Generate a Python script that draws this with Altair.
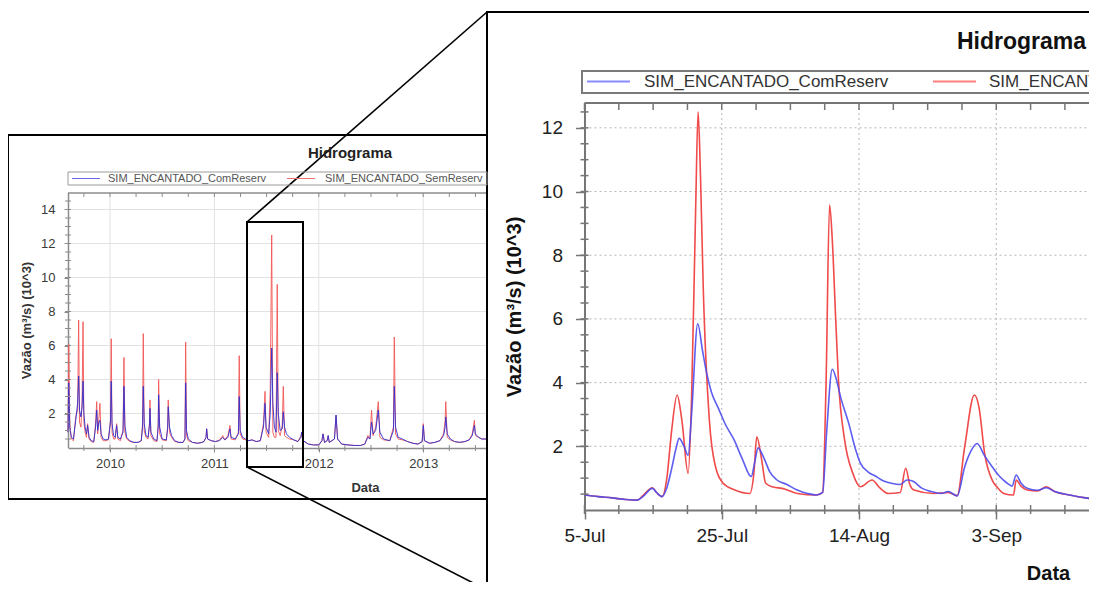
import altair as alt
import pandas as pd

FONT = "Liberation Sans"
W, H = 1081, 574

# ---------------- overview hydrograph (decimal year), flows in 10^3 m3/s
ov_ano = [2009.598, 2009.605, 2009.615, 2009.630, 2009.650, 2009.672, 2009.690, 2009.700, 2009.708, 2009.722,
          2009.733, 2009.742, 2009.750, 2009.762, 2009.775, 2009.786, 2009.800, 2009.820, 2009.845, 2009.862,
          2009.873, 2009.882, 2009.895, 2009.904, 2009.915, 2009.935, 2009.960, 2009.985, 2010.005, 2010.012,
          2010.020, 2010.035, 2010.050, 2010.064, 2010.075, 2010.100, 2010.125, 2010.134, 2010.143, 2010.160,
          2010.190, 2010.230, 2010.270, 2010.300, 2010.312, 2010.319, 2010.328, 2010.345, 2010.365, 2010.378,
          2010.383, 2010.392, 2010.420, 2010.450, 2010.462, 2010.466, 2010.476, 2010.500, 2010.540, 2010.552,
          2010.558, 2010.570, 2010.590, 2010.620, 2010.660, 2010.700, 2010.718, 2010.725, 2010.733, 2010.750,
          2010.790, 2010.840, 2010.880, 2010.900, 2010.920, 2010.926, 2010.935, 2010.970, 2011.010, 2011.050,
          2011.080, 2011.100, 2011.130, 2011.149, 2011.160, 2011.200, 2011.230, 2011.238, 2011.247, 2011.270,
          2011.300, 2011.330, 2011.360, 2011.400, 2011.440, 2011.470, 2011.485, 2011.495, 2011.520, 2011.535,
          2011.549, 2011.560, 2011.575, 2011.590, 2011.602, 2011.612, 2011.630, 2011.650, 2011.660, 2011.672,
          2011.690, 2011.720, 2011.760, 2011.800, 2011.830, 2011.836, 2011.850, 2011.900, 2011.950, 2012.000,
          2012.030, 2012.040, 2012.055, 2012.080, 2012.090, 2012.100, 2012.150, 2012.165, 2012.180, 2012.220,
          2012.280, 2012.340, 2012.400, 2012.440, 2012.470, 2012.490, 2012.505, 2012.520, 2012.545, 2012.570,
          2012.585, 2012.620, 2012.680, 2012.715, 2012.723, 2012.735, 2012.760, 2012.800, 2012.850, 2012.900,
          2012.950, 2012.990, 2013.001, 2013.012, 2013.060, 2013.110, 2013.160, 2013.195, 2013.210, 2013.216,
          2013.230, 2013.260, 2013.300, 2013.350, 2013.400, 2013.440, 2013.470, 2013.490, 2013.500, 2013.530,
          2013.560, 2013.611]
ov_com = [0.9, 3.8, 1.2, 0.6, 0.5, 1.6, 2.6, 4.2, 2.2, 1.8,
          2.4, 3.9, 2.0, 1.2, 0.8, 1.3, 0.6, 0.4, 0.35, 1.2,
          2.2, 1.0, 1.5, 1.6, 0.8, 0.5, 0.45, 0.5, 1.5, 3.9,
          1.4, 0.7, 0.6, 1.3, 0.6, 0.5, 0.9, 3.6, 1.3, 0.6,
          0.4, 0.3, 0.3, 0.4, 1.2, 3.6, 1.4, 0.7, 0.6, 1.3,
          2.3, 0.9, 0.5, 0.4, 1.2, 3.1, 1.2, 0.5, 0.45, 1.1,
          2.4, 1.2, 0.7, 0.4, 0.3, 0.3, 0.5, 3.8, 1.0, 0.5,
          0.3, 0.25, 0.3, 0.35, 0.6, 1.1, 0.5, 0.4, 0.35, 0.4,
          0.6, 0.45, 0.6, 1.1, 0.6, 0.5, 0.8, 3.0, 1.0, 0.6,
          0.5, 0.4, 0.45, 0.35, 0.4, 1.2, 2.6, 1.2, 0.8, 2.0,
          5.85, 2.6, 1.2, 0.9, 4.4, 2.0, 1.0, 1.1, 2.1, 1.2,
          0.8, 0.6, 0.45, 0.35, 0.6, 0.9, 0.4, 0.2, 0.15, 0.15,
          0.4, 0.8, 0.3, 0.4, 0.7, 0.3, 0.5, 1.9, 0.5, 0.2,
          0.15, 0.12, 0.12, 0.2, 0.6, 0.5, 1.5, 0.8, 1.0, 2.2,
          0.9, 0.5, 0.4, 1.0, 3.6, 1.2, 0.6, 0.5, 0.35, 0.25,
          0.2, 0.35, 1.3, 0.4, 0.25, 0.3, 0.4, 0.7, 1.2, 1.8,
          0.8, 0.5, 0.35, 0.3, 0.35, 0.45, 0.7, 1.3, 0.8, 0.6,
          0.5, 0.5]
ov_sem = [0.9, 6.1, 1.4, 0.5, 0.4, 1.8, 2.2, 7.5, 1.5, 1.2,
          2.8, 7.4, 1.5, 0.9, 0.6, 1.4, 0.5, 0.35, 0.3, 1.4,
          2.7, 0.8, 1.8, 2.6, 0.6, 0.4, 0.4, 0.45, 1.6, 6.4,
          0.9, 0.5, 0.5, 1.4, 0.5, 0.4, 1.0, 5.3, 0.9, 0.5,
          0.35, 0.3, 0.3, 0.4, 1.4, 6.7, 1.0, 0.6, 0.5, 1.4,
          2.8, 0.7, 0.4, 0.35, 1.4, 4.0, 0.8, 0.45, 0.4, 1.2,
          2.8, 0.9, 0.6, 0.35, 0.3, 0.3, 0.5, 6.2, 0.7, 0.4,
          0.3, 0.25, 0.3, 0.35, 0.6, 1.1, 0.5, 0.4, 0.35, 0.45,
          0.7, 0.45, 0.7, 1.3, 0.5, 0.45, 0.9, 5.4, 0.8, 0.5,
          0.45, 0.4, 0.45, 0.35, 0.4, 1.4, 3.3, 0.9, 0.6, 3.4,
          12.5, 0.9, 0.6, 0.6, 9.6, 1.0, 0.7, 1.3, 3.6, 0.7,
          0.6, 0.5, 0.45, 0.35, 0.7, 0.9, 0.4, 0.2, 0.15, 0.15,
          0.4, 0.8, 0.3, 0.4, 0.7, 0.3, 0.5, 1.9, 0.5, 0.2,
          0.15, 0.12, 0.12, 0.2, 0.7, 0.5, 2.2, 0.7, 1.2, 2.7,
          0.6, 0.45, 0.4, 1.2, 6.5, 0.8, 0.5, 0.45, 0.35, 0.25,
          0.2, 0.35, 1.4, 0.4, 0.25, 0.3, 0.4, 0.8, 1.6, 2.7,
          0.6, 0.45, 0.35, 0.3, 0.35, 0.45, 0.8, 1.6, 0.7, 0.6,
          0.5, 0.5]

# ---------------- zoomed hydrograph: days after 5-Jul-2011, flows in 10^3 m3/s
zc_dia = [0, 2, 4, 6, 7.7, 8.5, 9.9, 10.5, 11.3, 12, 12.7, 13.3, 13.8, 14.5, 15.1, 15.6, 16.5, 17.2,
          17.8, 18.5, 19.5, 20.5, 21.8, 23, 24.3, 24.8, 25.3, 26, 27, 28, 29.5, 31, 32.5, 33.8, 34.7,
          35.3, 36.1, 36.7, 37.3, 38.5, 39.5, 40.2, 41.3, 42.5, 43.5, 44.7, 46, 47, 47.7, 49.2, 50.5,
          52, 53, 54.3, 55.4, 56.3, 57.2, 58.3, 59.4, 60.5, 61.6, 62.3, 62.9, 63.6, 64.5, 66, 67.3,
          68.5, 70.7, 73, 75, 78]
zc_val = [0.47, 0.42, 0.38, 0.33, 0.31, 0.42, 0.68, 0.55, 0.42, 0.7, 1.3, 1.9, 2.25, 2.0, 1.72, 3.0,
          5.85, 5.0, 4.3, 3.7, 3.2, 2.7, 2.2, 1.6, 1.05, 1.5, 1.95, 1.7, 1.2, 0.95, 0.8, 0.63, 0.52,
          0.47, 0.55, 2.5, 4.42, 4.1, 3.56, 2.72, 1.9, 1.47, 1.2, 1.05, 0.92, 0.84, 0.8, 0.94, 0.92,
          0.68, 0.58, 0.52, 0.58, 0.44, 1.36, 1.85, 2.09, 1.7, 1.36, 1.05, 0.84, 0.75, 1.1, 0.85,
          0.68, 0.62, 0.7, 0.58, 0.47, 0.38, 0.33, 0.28]
zs_dia = [0, 2, 4, 6, 7.7, 8.5, 9.9, 10.5, 11.3, 12, 12.7, 13.5, 14.2, 15.1, 15.6, 16.2, 16.55, 16.9,
          17.3, 18.2, 19.1, 20.2, 21.9, 24.1, 24.7, 25.1, 25.8, 26.4, 27.5, 28.8, 31, 33.8, 34.7,
          35.2, 35.71, 36.1, 36.6, 37.0, 37.9, 39.1, 40.2, 41.9, 43, 44.2, 46, 46.8, 47.4, 48, 50.9,
          53, 54.3, 55.4, 56.8, 57.5, 58.3, 59.4, 60.2, 61.1, 62.5, 62.9, 63.6, 64.5, 66, 67.3, 68.5,
          70.7, 73, 75, 78]
zs_val = [0.47, 0.42, 0.38, 0.33, 0.31, 0.45, 0.7, 0.55, 0.42, 1.0, 2.5, 3.61, 2.8, 1.15, 3.5, 9.5,
          12.5, 10.5, 7.0, 2.8, 1.35, 0.84, 0.63, 0.52, 1.2, 2.3, 1.6, 0.84, 0.72, 0.68, 0.52, 0.47,
          0.55, 4.0, 9.58, 8.5, 6.0, 4.1, 2.2, 1.15, 0.73, 0.94, 0.7, 0.52, 0.55, 1.31, 0.8, 0.63,
          0.52, 0.55, 0.45, 1.99, 3.61, 3.2, 1.78, 0.94, 0.7, 0.52, 0.47, 0.94, 0.75, 0.63, 0.6,
          0.73, 0.58, 0.47, 0.38, 0.33, 0.28]

# ---------------- axis ticks and texts
ov_anos = [2010, 2011, 2012, 2013]
ov_trimestres = [2009.75 + 0.25 * i for i in range(16)]
ov_yticks = [2, 4, 6, 8, 10, 12, 14]
ov_yminor = [0.5 * i for i in range(1, 30)]
zm_yticks = [2, 4, 6, 8, 10, 12]
zm_yminor = [0.5 * i for i in range(1, 26)]
zm_major_dias = [0, 20, 40, 60]
zm_minor_dias = [5 * i for i in range(17)]
serie_com = "SIM_ENCANTADO_ComReserv"
serie_sem = "SIM_ENCANTADO_SemReserv"
titulo = "Hidrograma"
ytitulo = "Vazão (m³/s) (10^3)"
xtitulo = "Data"

BASE = pd.Timestamp("2011-07-05")


def iso(days):
    return [(BASE + pd.Timedelta(hours=24 * d)).strftime("%Y-%m-%dT%H:%M:%S") for d in days]


def dt(d):
    t = BASE + pd.Timedelta(days=d)
    return alt.DateTime(year=t.year, month=t.month, date=t.day)


DUMMY = alt.Data(values=[{"k": 0}])


def seg(x1, y1, x2, y2, color="black", w=2.0):
    return alt.Chart(DUMMY).mark_rule(color=color, strokeWidth=w).encode(
        x=alt.value(x1), y=alt.value(y1), x2=alt.value(x2), y2=alt.value(y2))


def box(x1, y1, x2, y2, color="black", w=2.0):
    return alt.Chart(DUMMY).mark_rect(fillOpacity=0, stroke=color, strokeWidth=w).encode(
        x=alt.value(x1), y=alt.value(y1), x2=alt.value(x2), y2=alt.value(y2))


def label(x, y, s, size, color="#222", weight="normal", align="left", **kw):
    return alt.Chart(DUMMY).mark_text(font=FONT, fontSize=size, fontWeight=weight, color=color,
                                      align=align, baseline="middle", **kw).encode(
        x=alt.value(x), y=alt.value(y), text=alt.value(s))


# ================= overview panel (left)
OV_X0, OV_X1, OV_Y0, OV_Y1 = 60, 479, 439.5, 184.5
ov_xs = alt.Scale(domain=[2009.598, 2013.611], range=[OV_X0, OV_X1], nice=False, zero=False)
ov_ys = alt.Scale(domain=[0, 15], range=[OV_Y0, OV_Y1], nice=False, zero=False)
ov_xax = alt.Axis(orient="bottom", offset=440 - H, values=ov_anos, format="d", grid=False,
                  labelFlush=False, labelOverlap=False, domainColor="#8c8c8c", domainWidth=1.5,
                  tickColor="#8c8c8c", tickSize=4, labelFont=FONT, labelFontSize=13, labelColor="#3a3a3a",
                  labelPadding=5, title=xtitulo, titleFont=FONT, titleFontSize=13, titleFontWeight="bold",
                  titleColor="#333", titleX=357, titleY=39, titleBaseline="middle", titleAlign="center")
ov_yax = alt.Axis(orient="left", offset=-OV_X0, values=ov_yticks, grid=False, labelFlush=False,
                  labelOverlap=False, domainColor="#8c8c8c", domainWidth=1.5, tickColor="#8c8c8c",
                  tickSize=4, labelFont=FONT, labelFontSize=13, labelColor="#3a3a3a", labelPadding=9,
                  title=ytitulo, titleFont=FONT, titleFontSize=13, titleFontWeight="bold",
                  titleColor="#333", titleX=-42, titleY=312, titleAngle=270, titleBaseline="middle",
                  titleAlign="center")


def ovX(f):
    return alt.X(f, scale=ov_xs, axis=ov_xax)


def ovY(f):
    return alt.Y(f, scale=ov_ys, axis=ov_yax)


ovdf = pd.DataFrame({"ano": ov_ano, "com": ov_com, "sem": ov_sem})
ov_layer = alt.layer(
    alt.Chart(pd.DataFrame({"v": ov_yticks})).mark_rule(color="#e2e2e2", strokeWidth=1).encode(
        y=ovY("v:Q"), x=alt.value(OV_X0), x2=alt.value(OV_X1)),
    alt.Chart(pd.DataFrame({"a": ov_anos})).mark_rule(color="#e2e2e2", strokeWidth=1).encode(
        x=ovX("a:Q"), y=alt.value(185), y2=alt.value(440)),
    alt.Chart(ovdf).mark_line(color="#f25656", strokeWidth=1, opacity=0.9).encode(
        x=ovX("ano:Q"), y=ovY("sem:Q")),
    alt.Chart(ovdf).mark_line(color="#3030d0", strokeWidth=1, opacity=0.9).encode(
        x=ovX("ano:Q"), y=ovY("com:Q")),
    alt.Chart(pd.DataFrame({"v": ov_yminor})).mark_rule(color="#8c8c8c", strokeWidth=1).encode(
        y=ovY("v:Q"), x=alt.value(57), x2=alt.value(63)),
    alt.Chart(pd.DataFrame({"a": ov_trimestres})).mark_rule(color="#8c8c8c", strokeWidth=1).encode(
        x=ovX("a:Q"), y=alt.value(185), y2=alt.value(189)),
    alt.Chart(pd.DataFrame({"a": ov_trimestres})).mark_rule(color="#8c8c8c", strokeWidth=1).encode(
        x=ovX("a:Q"), y=alt.value(437), y2=alt.value(443)),
)

# ================= zoom panel (right)
ZM_X0, ZM_Y0, ZM_Y1 = 576.5, 502, 95
PX_DAY = 6.863
zm_xs = alt.Scale(domain=[dt(0), dt(81)], range=[ZM_X0, ZM_X0 + 81 * PX_DAY], nice=False)
zm_ys = alt.Scale(domain=[0, 12.78], range=[ZM_Y0, ZM_Y1], nice=False, zero=False)
zm_xax = alt.Axis(orient="bottom", offset=ZM_Y0 - H, values=[dt(d) for d in zm_major_dias],
                  format="%-d-%b", grid=False, labelFlush=False, labelOverlap=False,
                  domainColor="#767676", domainWidth=2, tickColor="#767676", tickWidth=1.5, tickSize=9,
                  labelFont=FONT, labelFontSize=19, labelColor="#222", labelPadding=7,
                  title=xtitulo, titleFont=FONT, titleFontSize=20, titleFontWeight="bold",
                  titleColor="#111", titleX=1040, titleY=63, titleBaseline="middle", titleAlign="center")
zm_yax = alt.Axis(orient="left", offset=-ZM_X0, values=zm_yticks, grid=False, labelFlush=False,
                  labelOverlap=False, domainColor="#767676", domainWidth=2, tickColor="#767676",
                  tickWidth=1.5, tickSize=9, labelFont=FONT, labelFontSize=19, labelColor="#222",
                  labelPadding=13, title=ytitulo, titleFont=FONT, titleFontSize=20,
                  titleFontWeight="bold", titleColor="#111", titleX=-70, titleY=298.5, titleAngle=270,
                  titleBaseline="middle", titleAlign="center")


def zmX(f):
    return alt.X(f, scale=zm_xs, axis=zm_xax)


def zmY(f):
    return alt.Y(f, scale=zm_ys, axis=zm_yax)


zcdf = pd.DataFrame({"data": iso(zc_dia), "vazao": zc_val})
zsdf = pd.DataFrame({"data": iso(zs_dia), "vazao": zs_val})
zm_layer = alt.layer(
    alt.Chart(pd.DataFrame({"v": zm_yticks})).mark_rule(color="#b4b4b4", strokeWidth=1, strokeDash=[2, 3]).encode(
        y=zmY("v:Q"), x=alt.value(ZM_X0), x2=alt.value(1090)),
    alt.Chart(pd.DataFrame({"data": iso(zm_major_dias[1:])})).mark_rule(
        color="#b4b4b4", strokeWidth=1, strokeDash=[2, 3]).encode(
        x=zmX("data:T"), y=alt.value(ZM_Y1), y2=alt.value(ZM_Y0)),
    alt.Chart(zsdf).mark_line(color="#f04a4a", strokeWidth=1.6, interpolate="monotone").encode(
        x=zmX("data:T"), y=zmY("vazao:Q")),
    alt.Chart(zcdf).mark_line(color="#4c4cee", strokeWidth=1.6, opacity=0.9, interpolate="monotone").encode(
        x=zmX("data:T"), y=zmY("vazao:Q")),
    alt.Chart(pd.DataFrame({"v": zm_yminor})).mark_rule(color="#767676", strokeWidth=1.5).encode(
        y=zmY("v:Q"), x=alt.value(ZM_X0 - 4), x2=alt.value(ZM_X0 + 4)),
    alt.Chart(pd.DataFrame({"data": iso(zm_minor_dias)})).mark_rule(color="#767676", strokeWidth=1.5).encode(
        x=zmX("data:T"), y=alt.value(ZM_Y0 - 5), y2=alt.value(ZM_Y0 + 4)),
    alt.Chart(pd.DataFrame({"data": iso(zm_minor_dias)})).mark_rule(color="#767676", strokeWidth=1.5).encode(
        x=zmX("data:T"), y=alt.value(ZM_Y1), y2=alt.value(ZM_Y1 + 7)),
)

# ================= frames, zoom box, connectors, titles, legends
deco = alt.layer(
    seg(OV_X0, 185, OV_X1, 185, "#8c8c8c", 1.5),
    seg(ZM_X0, ZM_Y1, 1100, ZM_Y1, "#767676", 2),
    box(0, 127, 479, 491),
    box(479, 4, 1120, 640),
    box(239, 214, 295, 459),
    seg(239, 214, 479, 4, "black", 1.6),
    seg(239, 459, 475, 580, "black", 1.6),
    # left panel title + legend
    label(342, 145, titulo, 15, "#222", "bold", align="center"),
    box(60, 164, 479, 177, "#9a9a9a", 1),
    seg(64, 170.5, 92, 170.5, "#6a6ae6", 1),
    label(100, 171, serie_com, 11, "#555"),
    seg(279, 170.5, 307, 170.5, "#f07070", 1),
    label(317, 171, serie_sem, 11, "#555", limit=160, ellipsis=""),
    # right panel title + legend
    label(949, 34, titulo, 23, "#111", "bold"),
    box(574, 63, 1110, 85, "#7a7a7a", 2),
    seg(579, 73.5, 622, 73.5, "#8a8aff", 2),
    label(636, 74, serie_com, 17, "#333"),
    seg(925, 73.5, 968, 73.5, "#ff7f7f", 2),
    label(981, 74, serie_sem, 17, "#333"),
)

chart = alt.layer(ov_layer, zm_layer, deco).resolve_scale(
    x="independent", y="independent"
).properties(
    width=W, height=H, autosize=alt.AutoSizeParams(type="none"), padding=0, background="white"
).configure_view(stroke=None)

chart.save("out.html", embed_options={"renderer": "svg", "actions": False})
